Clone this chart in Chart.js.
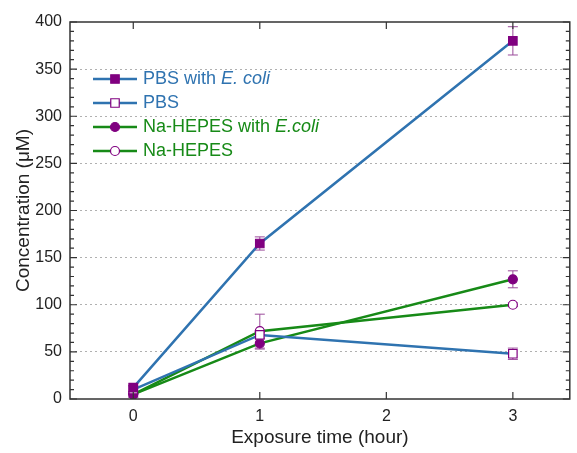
<!DOCTYPE html>
<html>
<head>
<meta charset="utf-8">
<script src="https://cdn.jsdelivr.net/npm/chart.js@4/dist/chart.umd.min.js"></script>
<style>
  html, body { margin: 0; padding: 0; background: #fff; }
  #wrap { width: 577px; height: 453px; }
</style>
</head>
<body>
<div id="wrap"><canvas id="concChart"></canvas></div>
<script>
// exposure times (hours)
const hours = [0, 1, 3];

// mean concentrations (uM)
const pbsEcoli = [12, 165, 380];
const pbs = [10, 68, 48];
const hepesEcoli = [5, 59, 127];
const hepes = [5, 72, 100];

// error bar half-widths (uM)
const pbsEcoliErr = [4, 7, 15];
const pbsErr = [4, 4, 6];
const hepesEcoliErr = [3, 6, 9];
const hepesErr = [3, 18, 2];

const xTicks = [0, 1, 2, 3];

const BLUE = "#2f73b0";
const GREEN = "#178a17";
const PURPLE = "#800080";
const FRAME = "#333";
const FONT = "'Liberation Sans', Arial, sans-serif";

const toPoints = (vals) => vals.map((v, i) => ({ x: hours[i], y: v }));

const datasets = [
  { label: "PBS with ", italic: "E. coli", data: toPoints(pbsEcoli), err: pbsEcoliErr,
    borderColor: BLUE, pointStyle: "rect", pointRadius: 6, pointBackgroundColor: PURPLE, pointBorderColor: PURPLE },
  { label: "PBS", italic: "", data: toPoints(pbs), err: pbsErr,
    borderColor: BLUE, pointStyle: "rect", pointRadius: 6, pointBackgroundColor: "#fff", pointBorderColor: PURPLE },
  { label: "Na-HEPES with ", italic: "E.coli", data: toPoints(hepesEcoli), err: hepesEcoliErr,
    borderColor: GREEN, pointStyle: "circle", pointRadius: 4.5, pointBackgroundColor: PURPLE, pointBorderColor: PURPLE },
  { label: "Na-HEPES", italic: "", data: toPoints(hepes), err: hepesErr,
    borderColor: GREEN, pointStyle: "circle", pointRadius: 4.5, pointBackgroundColor: "#fff", pointBorderColor: PURPLE },
].map((d) => Object.assign({ borderWidth: 2.5, pointBorderWidth: 1.2, tension: 0 }, d));

// error bars, drawn under the markers
const errorBars = {
  id: "errorBars",
  beforeDatasetsDraw(chart) {
    const { ctx, scales: { x, y } } = chart;
    ctx.save();
    ctx.strokeStyle = "#9a4a9a";
    ctx.lineWidth = 1;
    chart.data.datasets.forEach((ds) => {
      ds.data.forEach((p, i) => {
        const e = ds.err[i];
        const px = x.getPixelForValue(p.x);
        const top = y.getPixelForValue(p.y + e);
        const bot = y.getPixelForValue(p.y - e);
        ctx.beginPath();
        ctx.moveTo(px, top); ctx.lineTo(px, bot);
        ctx.moveTo(px - 5, top); ctx.lineTo(px + 5, top);
        ctx.moveTo(px - 5, bot); ctx.lineTo(px + 5, bot);
        ctx.stroke();
      });
    });
    ctx.restore();
  },
};

// box frame with inward ticks on all four sides
const frame = {
  id: "frame",
  afterDraw(chart) {
    const { ctx, chartArea: a, scales: { x, y } } = chart;
    ctx.save();
    ctx.strokeStyle = FRAME;
    ctx.lineWidth = 1.5;
    ctx.strokeRect(a.left, a.top, a.right - a.left, a.bottom - a.top);
    ctx.lineWidth = 1.2;
    ctx.beginPath();
    xTicks.forEach((t) => {
      const px = x.getPixelForValue(t);
      ctx.moveTo(px, a.bottom); ctx.lineTo(px, a.bottom - 7);
      ctx.moveTo(px, a.top); ctx.lineTo(px, a.top + 7);
    });
    for (let v = 0; v <= 400; v += 10) {
      const py = y.getPixelForValue(v);
      const len = v % 50 === 0 ? 7 : 4;
      ctx.moveTo(a.left, py); ctx.lineTo(a.left + len, py);
      ctx.moveTo(a.right, py); ctx.lineTo(a.right - len, py);
    }
    ctx.stroke();
    ctx.restore();
  },
};

// legend with italic species names
const legendBox = {
  id: "legendBox",
  afterDraw(chart) {
    const { ctx } = chart;
    const x0 = 93, rowY = 79, rowH = 24;
    ctx.save();
    ctx.textBaseline = "middle";
    chart.data.datasets.forEach((ds, i) => {
      const cy = rowY + i * rowH;
      ctx.strokeStyle = ds.borderColor;
      ctx.lineWidth = 2.5;
      ctx.beginPath();
      ctx.moveTo(x0, cy); ctx.lineTo(x0 + 44, cy);
      ctx.stroke();
      ctx.fillStyle = ds.pointBackgroundColor;
      ctx.strokeStyle = ds.pointBorderColor;
      ctx.lineWidth = 1.2;
      Chart.helpers.drawPoint(ctx, { pointStyle: ds.pointStyle, radius: ds.pointRadius, rotation: 0, borderWidth: 1.2 }, x0 + 22, cy);
      ctx.fillStyle = ds.borderColor;
      ctx.font = "18px " + FONT;
      ctx.fillText(ds.label, x0 + 50, cy);
      if (ds.italic) {
        const w = ctx.measureText(ds.label).width;
        ctx.font = "italic 18px " + FONT;
        ctx.fillText(ds.italic, x0 + 50 + w, cy);
      }
    });
    ctx.restore();
  },
};

new Chart(document.getElementById("concChart"), {
  type: "line",
  data: { datasets },
  plugins: [errorBars, frame, legendBox],
  options: {
    responsive: true,
    maintainAspectRatio: false,
    animation: false,
    layout: { padding: { top: 22, right: 7, left: 0, bottom: 0 } },
    plugins: { legend: { display: false }, tooltip: { enabled: false } },
    scales: {
      x: {
        type: "linear",
        min: -0.5,
        max: 3.45,
        afterBuildTicks: (s) => { s.ticks = xTicks.map((v) => ({ value: v })); },
        afterFit: (s) => { s.height = 54; },
        grid: { display: false, drawTicks: false },
        border: { display: false },
        ticks: { padding: 8, color: "#222", font: { family: FONT, size: 16 } },
        title: { display: true, text: "Exposure time (hour)", color: "#222",
                 font: { family: FONT, size: 19 }, padding: { top: 0, bottom: 4 } },
      },
      y: {
        min: 0,
        max: 400,
        afterFit: (s) => { s.width = 70; },
        grid: {
          drawTicks: false,
          color: (c) => (c.tick && c.tick.value > 0 && c.tick.value < 400 ? "#b0b0b0" : "rgba(0,0,0,0)"),
          lineWidth: 1,
        },
        border: { display: false, dash: [2, 3] },
        ticks: { stepSize: 50, padding: 8, color: "#222", font: { family: FONT, size: 16 } },
        title: { display: true, text: "Concentration (\u03bcM)", color: "#222",
                 font: { family: FONT, size: 19 }, padding: { top: 12, bottom: 0 } },
      },
    },
  },
});
</script>
</body>
</html>
